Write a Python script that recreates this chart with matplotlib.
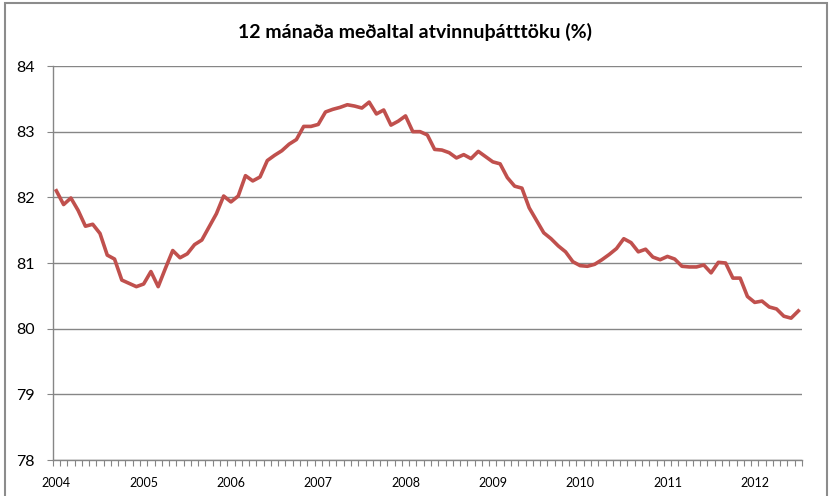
import numpy as np
import matplotlib
matplotlib.use("Agg")
import matplotlib.pyplot as plt
from matplotlib.patches import Rectangle

# 12 month average labour participation, monthly 2004-01 .. 2012-07
years = ["2004", "2005", "2006", "2007", "2008", "2009", "2010", "2011", "2012"]
values = [
    82.10, 81.89, 81.99, 81.80, 81.56, 81.59, 81.45, 81.12, 81.06, 80.74, 80.69, 80.64,
    80.68, 80.87, 80.64, 80.92, 81.19, 81.08, 81.14, 81.28, 81.35, 81.55, 81.75, 82.02,
    81.93, 82.02, 82.33, 82.25, 82.31, 82.56, 82.64, 82.71, 82.81, 82.88, 83.08, 83.08,
    83.11, 83.30, 83.34, 83.37, 83.41, 83.39, 83.36, 83.45, 83.27, 83.33, 83.10, 83.16,
    83.24, 83.00, 83.00, 82.95, 82.73, 82.72, 82.68, 82.60, 82.65, 82.59, 82.70, 82.62,
    82.54, 82.51, 82.30, 82.17, 82.14, 81.84, 81.65, 81.46, 81.37, 81.26, 81.17, 81.02,
    80.96, 80.95, 80.98, 81.05, 81.13, 81.22, 81.37, 81.31, 81.17, 81.21, 81.09, 81.05,
    81.10, 81.06, 80.95, 80.94, 80.94, 80.97, 80.85, 81.01, 81.00, 80.77, 80.77, 80.49,
    80.40, 80.42, 80.33, 80.30, 80.19, 80.16, 80.27,
]
y_ticks = [78, 79, 80, 81, 82, 83, 84]
title = "12 mánaða meðaltal atvinnuþátttöku (%)"

plt.rcParams['font.family'] = ['Lato', 'DejaVu Sans']

fig = plt.figure(figsize=(8.3, 4.96), dpi=100)
W, H = 830, 496
ax = fig.add_axes([52.7 / W, 1 - 460 / H, (802 - 52.7) / W, (460 - 66) / H])

x = np.arange(len(values))
ax.plot(x, values, color="#C0504D", lw=2.6, solid_joinstyle="round", zorder=3)

ax.set_xlim(-0.5, len(values) - 0.5)
ax.set_ylim(78, 84)

grey = "#868686"
ax.set_yticks(y_ticks)
ax.set_yticklabels([str(v) for v in y_ticks], fontsize=11.5)
ax.grid(axis="y", color=grey, lw=1.0)
ax.tick_params(axis="y", direction="out", length=4.3, color=grey, pad=8.5)

# category boundaries as small ticks, year labels under first month
ax.set_xticks(np.arange(-0.5, len(values), 1))
ax.set_xticklabels([])
ax.tick_params(axis="x", which="major", direction="out", length=4, color=grey)
ax.set_xticks(np.arange(0, len(values), 12), minor=True)
ax.set_xticklabels(years, minor=True, fontsize=9)
ax.tick_params(axis="x", which="minor", length=0, pad=12)

for s in ["top", "right"]:
    ax.spines[s].set_visible(False)
for s in ["left", "bottom"]:
    ax.spines[s].set_color(grey)
    ax.spines[s].set_linewidth(1.0)

fig.text(0.5, 1 - 32 / H, title, ha="center", va="center",
         fontsize=14, fontweight="bold")

# chart area border
fig.patches.append(Rectangle((5 / W, -0.05), (827 - 5) / W, 1.05 - 3 / H,
                             transform=fig.transFigure, fill=False,
                             edgecolor="#8c8c8c", lw=1.5))

fig.savefig("out.png", dpi=100)
